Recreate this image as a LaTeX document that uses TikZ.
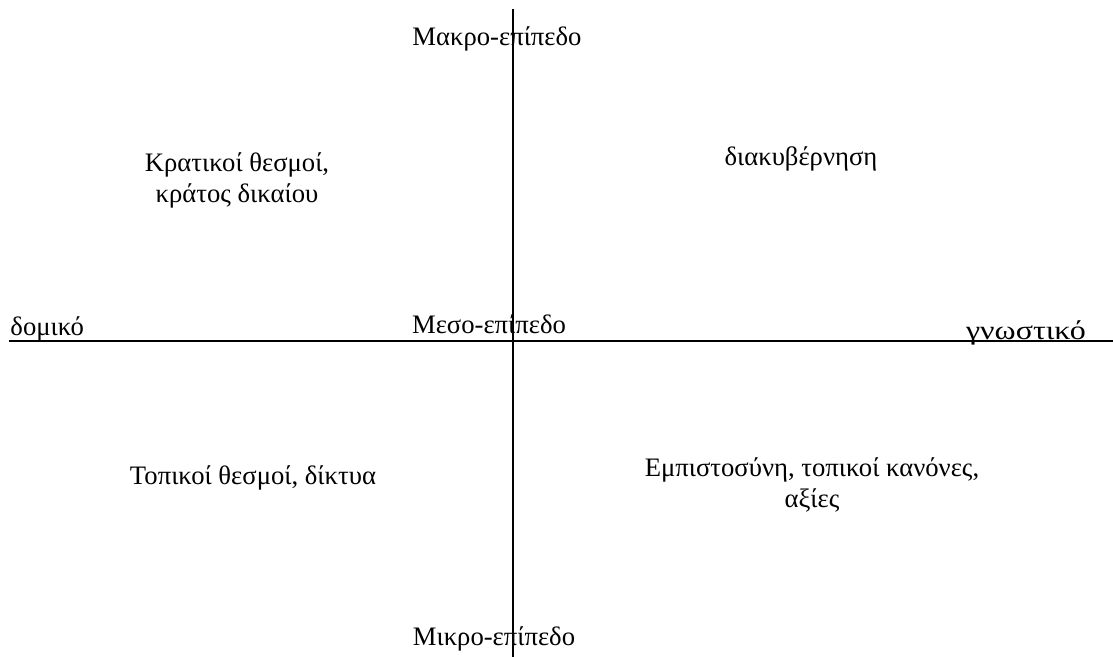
\documentclass[tikz,border=0pt]{standalone}
\usepackage{fontspec}
\setmainfont{Liberation Serif}
\usetikzlibrary{positioning}

\tikzset{
  axis/.style={line width=0.9pt},
  lbl/.style={inner sep=0pt, anchor=base, font=\fontsize{12}{14}\selectfont},
}

\begin{document}
\begin{tikzpicture}[x=0.45pt,y=-0.45pt]
    \useasboundingbox (0,0) rectangle (1113,657);

    % axes
    \coordinate (top) at (513,9);
    \coordinate (bottom) at (513,657);
    \coordinate (left) at (9,341);
    \coordinate (right) at (1113,341);
    \draw[axis] (top) -- (bottom);
    \draw[axis] (left) -- (right);

    % levels
    \node[lbl] (macro) at (497,46) {Μακρο-επίπεδο};
    \node[lbl] (meso) at (489,334) {Μεσο-επίπεδο};
    \node[lbl] (micro) at (494,646) {Μικρο-επίπεδο};

    % ends of the horizontal axis
    \node[lbl, anchor=base west] (domiko) at (10,336) {δομικό};
    \node[lbl] (gnostiko) at (1026,340) {\scalebox{1.2}[1]{γνωστικό}};

    % quadrants (base = last line)
    \node[lbl, align=center] (qa) at (237,203) {Κρατικοί θεσμοί,\\κράτος δικαίου};
    \node[lbl] (qb) at (801,166) {διακυβέρνηση};
    \node[lbl] (qc) at (253,485) {Τοπικοί θεσμοί, δίκτυα};
    \node[lbl, align=center] (qd) at (812,508) {Εμπιστοσύνη, τοπικοί κανόνες,\\αξίες};
\end{tikzpicture}
\end{document}
